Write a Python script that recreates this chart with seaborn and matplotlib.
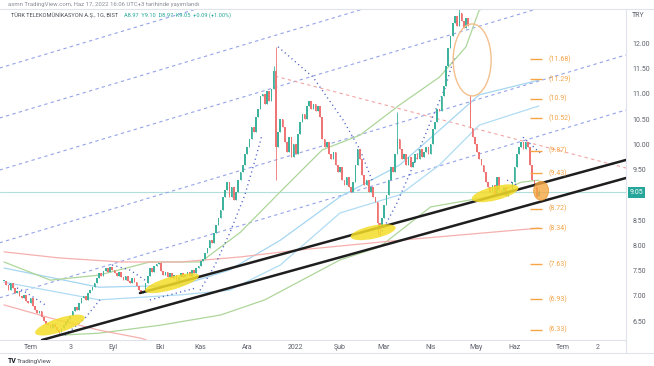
import matplotlib
matplotlib.use("Agg")
import numpy as np
import pandas as pd
import matplotlib.pyplot as plt
import matplotlib.transforms as mtransforms
from matplotlib.patches import Ellipse
from matplotlib.lines import Line2D
import seaborn as sns

# daily closes, one per bar (Haz 2021 -> 17 Haz 2022)
closes = [
    7.30, 7.22, 7.12, 7.25, 7.15, 7.05, 7.10, 7.00, 6.95, 7.02,
    6.90, 6.85, 6.95, 6.80, 6.72, 6.65, 6.70, 6.58, 6.50, 6.45,
    6.42, 6.36, 6.45, 6.38, 6.32, 6.28, 6.36, 6.42, 6.48, 6.55,
    6.60, 6.70, 6.78, 6.72, 6.85, 6.95, 7.00, 6.92, 7.05, 7.12,
    7.18, 7.25, 7.35, 7.45, 7.40, 7.50, 7.55, 7.48, 7.58, 7.52,
    7.45, 7.40, 7.48, 7.38, 7.32, 7.40, 7.30, 7.25, 7.35, 7.28,
    7.20, 7.12, 7.05, 7.10, 7.25, 7.40, 7.55, 7.48, 7.60, 7.62,
    7.65, 7.50, 7.42, 7.48, 7.38, 7.45, 7.35, 7.42, 7.30, 7.38,
    7.45, 7.38, 7.42, 7.48, 7.40, 7.52, 7.45, 7.55, 7.60, 7.68,
    7.72, 7.85, 7.95, 8.10, 8.05, 8.25, 8.40, 8.55, 8.70, 8.95,
    9.10, 9.25, 8.95, 9.15, 8.90, 9.05, 9.30, 9.45, 9.60, 9.80,
    9.95, 10.10, 10.35, 10.25, 10.55, 10.70, 10.95, 11.00, 10.80, 11.05,
    10.85, 11.10, 11.45, 9.95, 10.25, 10.50, 10.35, 10.05, 9.85, 10.15,
    9.75, 10.00, 9.80, 10.20, 10.45, 10.60, 10.50, 10.75, 10.85, 10.70,
    10.80, 10.65, 10.75, 10.55, 10.10, 9.95, 10.05, 9.80, 9.70, 9.85,
    9.60, 9.45, 9.55, 9.30, 9.20, 9.35, 9.15, 9.05, 9.25, 9.60,
    9.90, 9.70, 9.40, 9.20, 9.30, 9.05, 9.15, 8.95, 8.85, 8.45,
    8.35, 8.55, 8.80, 9.00, 9.30, 9.55, 9.45, 9.80, 10.10, 9.90,
    9.70, 9.80, 9.60, 9.75, 9.55, 9.65, 9.80, 9.70, 9.90, 9.75,
    9.85, 9.95, 9.80, 10.00, 10.30, 10.45, 10.70, 10.65, 10.95, 11.15,
    11.55, 11.90, 12.15, 12.40, 12.55, 12.35, 12.60, 12.45, 12.30, 12.50,
    12.35, 10.32, 10.15, 10.00, 9.85, 9.70, 9.60, 9.45, 9.25, 9.15,
    9.05, 9.20, 8.98, 9.35, 9.10, 9.00, 9.15, 8.98, 9.05, 9.10,
    9.25, 9.55, 9.80, 9.95, 10.05, 9.90, 10.05, 9.95, 9.60, 9.30,
    9.15, 8.96, 9.05,
]
gap_opens = {211: 10.97, 242: 8.97}
highs = {122: 11.55, 123: 11.93, 178: 10.63, 206: 12.85, 242: 9.10}
lows = {25: 6.25, 123: 9.30, 169: 8.22, 170: 8.20, 242: 8.97}

tick_pos = [12.2, 30.3, 49.3, 70.6, 88.7, 110, 131.7, 152, 171.5, 192.8, 213.6, 230.8, 252.9, 268.8]
tick_lab = ["Tem", "3", "Eyl", "Eki", "Kas", "Ara", "2022", "Şub", "Mar", "Nis", "May", "Haz", "Tem", "2"]
price_ticks = [6.5, 7.0, 7.5, 8.0, 8.5, 9.5, 10.0, 10.5, 11.0, 11.5, 12.0]
last_price = 9.05

fib_levels = [11.68, 11.29, 10.9, 10.52, 9.87, 9.43, 8.72, 8.34, 7.63, 6.93, 6.33]
fib_labels = ["(11.68)", "(11.29)", "(10.9)", "(10.52)", "(9.87)", "(9.43)",
              "(8.72)", "(8.34)", "(7.63)", "(6.93)", "(6.33)"]

# parallel blue channel, start/end price of each line
channel_x = [-2, 281.4]
channel_start = [11.51, 10.52, 9.49, 8.05, 6.96]
channel_end = [15.23, 14.24, 13.21, 11.77, 10.68]

# black support lines and red resistance line
upper_trend = ([61.5, 281.4], [7.055, 9.69])
lower_trend = ([17.2, 281.4], [6.125, 9.333])
red_trend = ([122.6, 281.4], [11.35, 9.53])

# indicator curves
blue1_x = [0, 43, 80, 102, 125, 152, 179, 197, 215, 242]
blue1_y = [7.55, 7.17, 7.21, 7.51, 8.10, 8.96, 9.59, 10.28, 10.98, 11.27]
blue2_x = [0, 43, 80, 102, 125, 152, 179, 197, 215, 242]
blue2_y = [7.27, 6.92, 7.02, 7.11, 7.61, 8.64, 9.00, 9.59, 10.38, 10.76]
green1_x = [0, 21, 43, 66, 89, 107, 125, 144, 161, 179, 197, 209, 215, 242]
green1_y = [7.67, 7.31, 7.41, 7.67, 7.67, 8.26, 9.06, 9.89, 10.18, 10.78, 11.33, 11.93, 12.66, 12.96]
green2_x = [25, 43, 71, 98, 118, 152, 170, 193, 219, 234, 242]
green2_y = [6.22, 6.26, 6.42, 6.62, 6.92, 7.71, 7.97, 8.76, 8.96, 9.25, 9.29]
red1_x = [0, 25, 53, 80, 107, 134, 179, 242]
red1_y = [7.87, 7.75, 7.67, 7.67, 7.77, 7.91, 8.10, 8.34]
red2_x = [0, 21, 43, 62, 71]
red2_y = [6.82, 6.56, 6.32, 6.16, 6.02]

# parabolic SAR stretches (bar, price)
sar_segments = [
    ([0.5, 9.5, 18.6], [7.27, 7.08, 6.82]),
    ([27.6, 36.7, 43.4], [6.22, 6.56, 6.92]),
    ([48.9, 57, 63.8], [7.61, 7.51, 7.31]),
    ([66, 75.1, 86.4], [6.92, 7.02, 7.15]),
    ([88.7, 95.5, 102.3, 109, 113.6, 116.7], [7.11, 7.61, 8.26, 9.00, 9.69, 10.18]),
    ([124, 139.8, 153.4, 161.1, 166.5], [11.93, 11.33, 10.48, 9.89, 9.29]),
    ([170.1, 177.8, 183.7, 189.1, 193.7, 199.5, 204], [8.20, 8.84, 9.43, 10.03, 10.52, 11.11, 11.77]),
    ([227.6, 232.1], [9.29, 9.19]),
    ([234.8, 242.5], [10.14, 9.83]),
]

# marked zones: centre (bar, price), size in px, angle
yellow_zones = [(25.3, 6.42, 52, 14, 18), (76, 7.25, 56, 13, 16),
                (167, 8.26, 46, 13, 12), (222.2, 9.03, 48, 14, 14)]
gap_zone = (211.8, 11.67, 38, 72, 0)
last_zone = (243, 9.08, 15, 19, 0)

sns.set_style("white")
plt.rcParams["font.family"] = ["Roboto", "DejaVu Sans"]

W, H = 654, 366
fig = plt.figure(figsize=(W / 100, H / 100), dpi=100)
ax = fig.add_axes([0, 26 / H, 626 / W, 331 / H])
ax.set_xlim(-1.81, 281.4)
ax.set_ylim(6.125, 12.679)

# light background lines
ax.axhline(last_price, color="#26a69a", alpha=0.35, lw=0.8, zorder=1)
for s, e in zip(channel_start, channel_end):
    ax.plot(channel_x, [s, e], color="#95a3e8", lw=0.8, dashes=(3, 3), zorder=2)
ax.plot(*red_trend, color="#f3a5a5", lw=0.8, dashes=(3, 3), zorder=2)

ind = pd.concat([
    pd.DataFrame({"bar": blue1_x, "val": blue1_y, "name": "b1"}),
    pd.DataFrame({"bar": blue2_x, "val": blue2_y, "name": "b2"}),
    pd.DataFrame({"bar": green1_x, "val": green1_y, "name": "g1"}),
    pd.DataFrame({"bar": green2_x, "val": green2_y, "name": "g2"}),
    pd.DataFrame({"bar": red1_x, "val": red1_y, "name": "r1"}),
    pd.DataFrame({"bar": red2_x, "val": red2_y, "name": "r2"}),
])
pal = {"b1": "#a5d6f1", "b2": "#b0dcf3", "g1": "#add69a", "g2": "#add69a",
       "r1": "#f5b0ad", "r2": "#f5b0ad"}
sns.lineplot(data=ind, x="bar", y="val", hue="name", palette=pal, units="name",
             estimator=None, sort=False, lw=0.9, legend=False, ax=ax, zorder=2)

for sx, sy in sar_segments:
    ax.plot(sx, sy, color="#4a5fc4", lw=1.0, linestyle=(0, (0.8, 2.4)), zorder=3)

# candles
c = np.array(closes)
o = np.r_[c[0], c[:-1]]
for k, v in gap_opens.items():
    o[k] = v
hi = np.maximum(o, c)
lo = np.minimum(o, c)
for k, v in highs.items():
    hi[k] = v
for k, v in lows.items():
    lo[k] = v
idx = np.arange(len(c))
cols = np.where(c >= o, "#3db39e", "#ef7474")
ax.vlines(idx, lo, hi, colors=cols, lw=0.6, zorder=4)
ax.bar(idx, np.maximum(np.abs(c - o), 0.012), bottom=np.minimum(o, c), width=0.75,
       color=cols, linewidth=0, zorder=4)

# black trend lines
ax.plot(*upper_trend, color="#1e1e1e", lw=1.8, zorder=5)
ax.plot(*lower_trend, color="#1e1e1e", lw=1.8, zorder=5)

# fib level marks
for lvl, lab in zip(fib_levels, fib_labels):
    ax.hlines(lvl, 238, 243.4, color="#f6a545", lw=1.0, zorder=5)
    ax.text(246.5, lvl, lab, color="#f3a448", fontsize=5, va="center", zorder=6)

# zones drawn in pixel space so they keep their shape
fig.canvas.draw()
ident = mtransforms.IdentityTransform()
for bx, py, w, h, a in yellow_zones:
    cx, cy = ax.transData.transform((bx, py))
    ax.add_patch(Ellipse((cx, cy), w, h, angle=a, transform=ident,
                         facecolor="#f4dc28", edgecolor="none", alpha=0.85, zorder=6))
bx, py, w, h, a = gap_zone
cx, cy = ax.transData.transform((bx, py))
ax.add_patch(Ellipse((cx, cy), w, h, angle=a, transform=ident,
                     facecolor="none", edgecolor="#f3c08e", lw=1.0, zorder=6))
bx, py, w, h, a = last_zone
cx, cy = ax.transData.transform((bx, py))
ax.add_patch(Ellipse((cx, cy), w, h, angle=a, transform=ident,
                     facecolor="#f5a742", edgecolor="#e79530", lw=0.6, alpha=0.8, zorder=6))

# axes look
for side in ["top", "left"]:
    ax.spines[side].set_visible(False)
for side in ["right", "bottom"]:
    ax.spines[side].set_color("#e0e3eb")
    ax.spines[side].set_linewidth(0.8)
ax.yaxis.tick_right()
ax.set_yticks(price_ticks)
ax.set_yticklabels([f"{v:.2f}" for v in price_ticks])
ax.set_xticks(tick_pos)
ax.set_xticklabels(tick_lab)
ax.tick_params(axis="y", length=0, pad=4.5, labelsize=5, labelcolor="#5d606b")
ax.tick_params(axis="x", length=0, pad=3, labelsize=5, labelcolor="#5d606b")
ax.set_xlabel("")
ax.set_ylabel("")
ax.grid(False)

blend = mtransforms.blended_transform_factory(ax.transAxes, ax.transData)
ax.text(1.006, last_price, f"{last_price:.2f}", transform=blend, fontsize=5, color="white",
        va="center", ha="left", clip_on=False,
        bbox=dict(boxstyle="square,pad=0.25", fc="#26a69a", ec="none"))
ax.text(1.01, 12.56, "TRY", transform=blend, fontsize=5, color="#5d606b", va="center")

# frame lines outside the plot
fig.add_artist(Line2D([0, 1], [1 - 9 / H, 1 - 9 / H], color="#e0e3eb", lw=0.8))
fig.add_artist(Line2D([0, 1], [1 - 353 / H, 1 - 353 / H], color="#e0e3eb", lw=0.8))
fig.add_artist(Line2D([626 / W, 626 / W], [1 - 353 / H, 1 - 340 / H], color="#e0e3eb", lw=0.8))

fig.text(8 / W, 1 - 4.5 / H, "asmn TradingView.com, Haz 17, 2022 16:06 UTC+3 tarihinde yayımlandı",
         fontsize=4.3, color="#8a8d96", va="center")
fig.text(11 / W, 1 - 15 / H, "TÜRK TELEKOMÜNİKASYON A.Ş., 1G, BIST", fontsize=4.1,
         color="#4a4d57", va="center")
fig.text(124 / W, 1 - 15 / H, "A8.97  Y9.10  D8.97  K9.05  +0.09 (+1.00%)", fontsize=4.1,
         color="#26a69a", va="center")
fig.text(8 / W, 1 - 361 / H, "TV", fontsize=5, fontweight="bold", color="#131722", va="center")
fig.text(17 / W, 1 - 361 / H, "TradingView", fontsize=4.5, color="#4a4d57", va="center")

fig.savefig("out.png", dpi=100, facecolor="white")
